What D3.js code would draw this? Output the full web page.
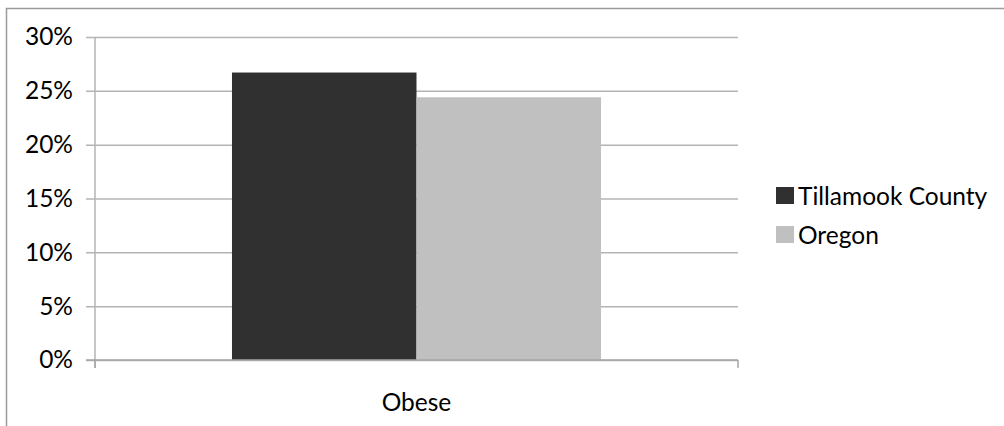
<!DOCTYPE html>
<html>
<head>
<meta charset="utf-8">
<script src="https://cdn.jsdelivr.net/npm/d3@7"></script>
<style>
  html, body { margin: 0; padding: 0; background: #fff; }
  svg { display: block; }
  text { font-family: Lato, "Noto Sans", sans-serif; fill: #000; }
</style>
</head>
<body>
<svg id="chart" width="1004" height="426"></svg>
<script>
const categories = ["Obese"];
const seriesNames = ["Tillamook County", "Oregon"];
const tillamookValues = [26.7];
const oregonValues = [24.4];
const yTicks = [0, 5, 10, 15, 20, 25, 30];
const seriesColors = ["#303030", "#c0c0c0"];

const seriesValues = [tillamookValues, oregonValues];
const svg = d3.select("#chart");
const fontSize = 24.5;

// outer frame (extends past the right/bottom edges)
svg.append("rect")
  .attr("x", 6.5).attr("y", 8.5)
  .attr("width", 1010).attr("height", 430)
  .attr("fill", "none").attr("stroke", "#9a9a9a").attr("stroke-width", 1.5);

const plot = { left: 95, right: 738, top: 37, bottom: 360 };

const y = d3.scaleLinear().domain([0, 30]).range([plot.bottom, plot.top]);
const x0 = d3.scaleBand().domain(categories).range([plot.left, plot.right])
  .paddingInner(0.2707).paddingOuter(0.2707);
const x1 = d3.scaleBand().domain(seriesNames).range([0, x0.bandwidth()]);

// gridlines + y ticks
const yAxis = d3.axisLeft(y).tickValues(yTicks)
  .tickSize(-(plot.right - plot.left))
  .tickFormat(d => d + "%").tickPadding(13);
const gy = svg.append("g").attr("transform", `translate(${plot.left},0)`).call(yAxis);
gy.select(".domain").remove();
gy.selectAll(".tick line").attr("stroke", "#b4b4b4").attr("stroke-width", 1.5)
  .attr("x1", -9);
gy.selectAll(".tick text").style("font-size", fontSize + "px")
  .style("font-family", "Lato, 'Noto Sans', sans-serif").attr("fill", "#000")
  .attr("x", -22);

// bars
categories.forEach((c, ci) => {
  seriesNames.forEach((s, si) => {
    const v = seriesValues[si][ci];
    svg.append("rect")
      .attr("x", x0(c) + x1(s))
      .attr("y", y(v))
      .attr("width", x1.bandwidth())
      .attr("height", y(0) - y(v))
      .attr("fill", seriesColors[si]);
  });
});

// y axis line
svg.append("line")
  .attr("x1", plot.left).attr("x2", plot.left)
  .attr("y1", plot.top).attr("y2", plot.bottom + 8)
  .attr("stroke", "#b4b4b4").attr("stroke-width", 1.5);

// x axis
const xAxis = d3.axisBottom(x0).tickSize(0).tickPadding(0);
const gx = svg.append("g").attr("transform", `translate(0,${plot.bottom})`).call(xAxis);
gx.select(".domain").remove();
gx.selectAll(".tick text").style("font-size", fontSize + "px")
  .style("font-family", "Lato, 'Noto Sans', sans-serif").attr("fill", "#000")
  .attr("dy", null).attr("y", 51);
svg.append("line")
  .attr("x1", plot.left - 9).attr("x2", plot.right)
  .attr("y1", plot.bottom).attr("y2", plot.bottom)
  .attr("stroke", "#a6a6a6").attr("stroke-width", 1.5);
[plot.left, plot.right].forEach(px => {
  svg.append("line")
    .attr("x1", px).attr("x2", px)
    .attr("y1", plot.bottom).attr("y2", plot.bottom + 8)
    .attr("stroke", "#a6a6a6").attr("stroke-width", 1.5);
});

// legend
const legend = svg.append("g");
seriesNames.forEach((s, i) => {
  const ly = 187 + i * 39;
  legend.append("rect").attr("x", 776).attr("y", ly).attr("width", 18).attr("height", 17)
    .attr("fill", seriesColors[i]);
  legend.append("text").attr("x", 798).attr("y", ly + 18)
    .style("font-size", fontSize + "px").text(s);
});
</script>
</body>
</html>
